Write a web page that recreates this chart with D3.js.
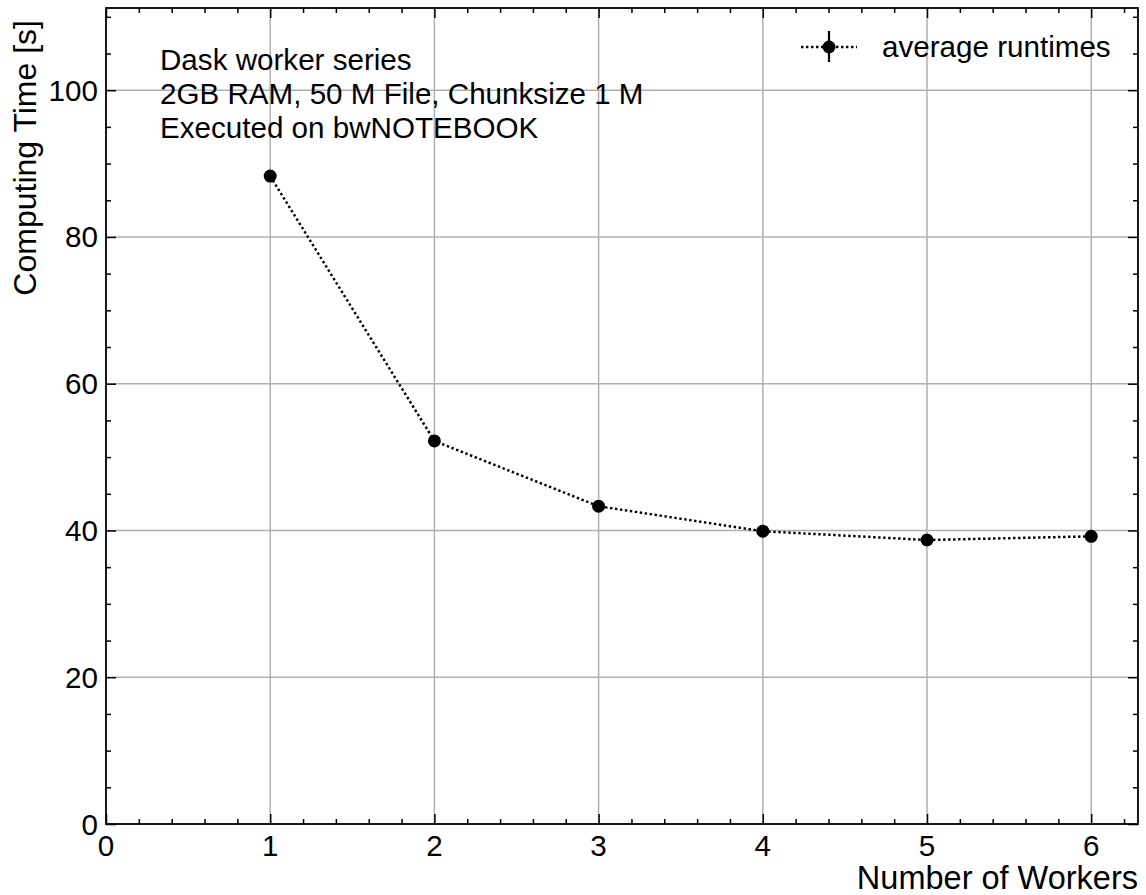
<!DOCTYPE html>
<html lang="en">
<head>
  <meta charset="utf-8">
  <title>Dask worker series</title>
  <script src="https://cdn.jsdelivr.net/npm/d3@7"></script>
  <style>
    body { margin: 0; background: #fff; }
    text { font-family: "Liberation Sans", Arial, sans-serif; fill: #000; }
  </style>
</head>
<body>
  <svg class="chart" width="1146" height="895"></svg>
  <script>
    var workers = [1, 2, 3, 4, 5, 6];
    var runtimes = [88.3, 52.2, 43.3, 39.9, 38.7, 39.2];
    var xTicks = [0, 1, 2, 3, 4, 5, 6];
    var yTicks = [0, 20, 40, 60, 80, 100];
    var infoLines = ["Dask worker series", "2GB RAM, 50 M File, Chunksize 1 M", "Executed on bwNOTEBOOK"];

    var pLeft = 106, pRight = 1138, pTop = 8, pBottom = 824;

    var x = d3.scaleLinear().domain([0, 6.285]).range([pLeft, pRight]);
    var y = d3.scaleLinear().domain([0, 111.2]).range([pBottom, pTop]);

    var svg = d3.select("svg.chart");

    // grid
    svg.append("g").selectAll("line").data(xTicks.slice(1)).join("line")
       .attr("x1", d => x(d)).attr("x2", d => x(d))
       .attr("y1", pTop).attr("y2", pBottom)
       .attr("stroke", "#b0b0b0").attr("stroke-width", 1.5);
    svg.append("g").selectAll("line").data(yTicks.slice(1)).join("line")
       .attr("y1", d => y(d)).attr("y2", d => y(d))
       .attr("x1", pLeft).attr("x2", pRight)
       .attr("stroke", "#b0b0b0").attr("stroke-width", 1.5);

    // ticks inward on all sides
    var xMinor = d3.range(0, 6.29, 0.2).filter(v => Math.abs(v - Math.round(v)) > 1e-6);
    var yMinor = d3.range(0, 111, 5).filter(v => v % 20 !== 0);

    var axes = [
      [d3.axisBottom, x, pBottom, "x"],
      [d3.axisTop, x, pTop, "x"],
      [d3.axisLeft, y, pLeft, "y"],
      [d3.axisRight, y, pRight, "y"]
    ];
    axes.forEach(function(a) {
      var isX = a[3] === "x";
      var major = isX ? xTicks : yTicks;
      var minor = isX ? xMinor : yMinor;
      [[major, 10], [minor, 5]].forEach(function(m) {
        var g = svg.append("g")
          .attr("transform", isX ? "translate(0," + a[2] + ")" : "translate(" + a[2] + ",0)")
          .call(a[0](a[1]).tickValues(m[0]).tickSizeInner(-m[1]).tickSizeOuter(0).tickFormat(""));
        g.select(".domain").remove();
        g.selectAll("line").attr("stroke", "#000").attr("stroke-width", 1.5);
      });
    });

    // frame
    svg.append("rect").attr("x", pLeft).attr("y", pTop)
       .attr("width", pRight - pLeft).attr("height", pBottom - pTop)
       .attr("fill", "none").attr("stroke", "#000").attr("stroke-width", 1.8);

    // tick labels
    svg.append("g").selectAll("text").data(xTicks).join("text")
       .attr("x", d => x(d)).attr("y", pBottom + 32)
       .attr("text-anchor", "middle").attr("font-size", 29.6)
       .text(d => d);
    svg.append("g").selectAll("text").data(yTicks).join("text")
       .attr("x", pLeft - 8).attr("y", d => y(d) + 10.5)
       .attr("text-anchor", "end").attr("font-size", 29.6)
       .text(d => d);

    // axis labels
    svg.append("text").attr("x", pRight).attr("y", 889)
       .attr("text-anchor", "end").attr("font-size", 32.5)
       .text("Number of Workers");
    svg.append("text")
       .attr("transform", "translate(36," + (pTop + 12) + ") rotate(-90)")
       .attr("text-anchor", "end").attr("font-size", 32)
       .text("Computing Time [s]");

    // data line and points
    var data = workers.map((w, i) => ({ w: w, t: runtimes[i] }));
    var line = d3.line().x(d => x(d.w)).y(d => y(d.t));
    svg.append("path").datum(data)
       .attr("d", line).attr("fill", "none")
       .attr("stroke", "#000").attr("stroke-width", 2.5)
       .attr("stroke-dasharray", "2.4,2.6");
    svg.append("g").selectAll("circle").data(data).join("circle")
       .attr("cx", d => x(d.w)).attr("cy", d => y(d.t))
       .attr("r", 6.5).attr("fill", "#000");

    // info text
    svg.append("g").selectAll("text").data(infoLines).join("text")
       .attr("x", 160).attr("y", (d, i) => 70 + i * 34)
       .attr("font-size", 29.6)
       .text(d => d);

    // legend
    var lg = svg.append("g");
    lg.append("line").attr("x1", 801).attr("x2", 857).attr("y1", 47).attr("y2", 47)
      .attr("stroke", "#000").attr("stroke-width", 2.5).attr("stroke-dasharray", "2.4,2.6");
    lg.append("line").attr("x1", 829).attr("x2", 829).attr("y1", 31).attr("y2", 62)
      .attr("stroke", "#000").attr("stroke-width", 2.2);
    lg.append("circle").attr("cx", 829).attr("cy", 47).attr("r", 6.5).attr("fill", "#000");
    lg.append("text").attr("x", 882).attr("y", 57).attr("font-size", 29.6).text("average runtimes");
  </script>
</body>
</html>
